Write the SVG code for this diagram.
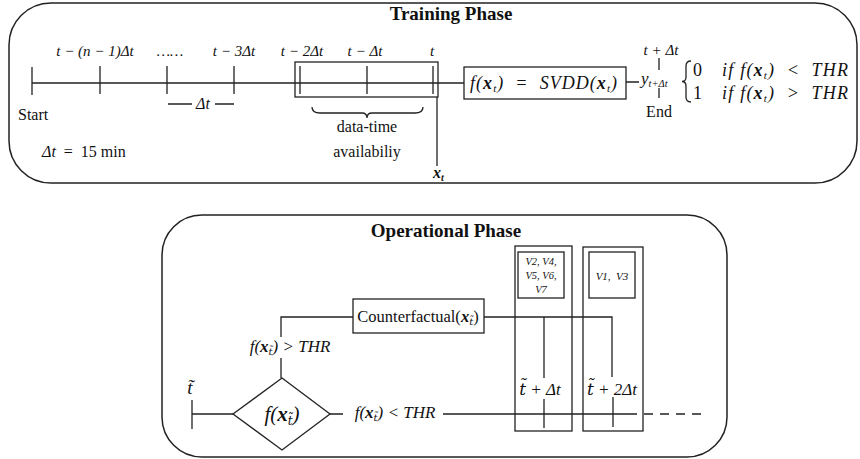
<svg xmlns="http://www.w3.org/2000/svg" width="860" height="459" viewBox="0 0 860 459">
<style>
.ln{stroke:#222;stroke-width:1.3;fill:none}
.bx{stroke:#222;stroke-width:1.3;fill:#fff}
.pn{stroke:#222;stroke-width:1.5;fill:#fff}
text{font-family:"Liberation Serif","DejaVu Serif",serif;fill:#111;white-space:pre}
.m{font-style:italic}
.ttl{font-weight:bold;font-size:19px}
</style>
<rect width="860" height="459" fill="#fff"/>
<g id="training-panel">
<rect class="pn" x="9" y="3" width="848" height="180" rx="42"/>
<text class="ttl" x="451" y="20" text-anchor="middle">Training Phase</text>
</g>
<g id="operational-panel">
<rect class="pn" x="162" y="215" width="565" height="242" rx="40"/>
<text class="ttl" x="446" y="237" text-anchor="middle">Operational Phase</text>
</g>
<g id="connectors">
<path class="ln" d="M32 83H464M626 82H639"/>
<path class="ln" d="M32 67V95M100 66V94M167 66V94M234 66V94M300 66V94M367 66V94M433 66V94"/>
<path class="ln" d="M437 97V166"/>
<path class="ln" d="M168 104H192M215 104H234"/>
<path class="ln" d="M312 107Q312 113 320 113H362Q367 113 367 118Q367 113 372 113H415Q423 113 423 107"/>
<path class="ln" d="M659 58V70M659 88V98"/>
<path class="ln" d="M691 61Q686 61 686 66V77Q686 81.5 682 81.5Q686 81.5 686 86V97Q686 102 691 102"/>
<path class="ln" d="M192 400V429M192 414H233M330 414H343M443 414H628"/>
<path class="ln" d="M628 414H703" stroke-dasharray="9,7"/>
<path class="ln" d="M281 378V358M281 337V317H353M484 317H612V377M544 317V378"/>
<path class="ln" d="M544 399V428M613 397V427"/>
</g>
<g id="time-labels">
<text class="m" x="95" y="56" text-anchor="middle" font-size="15">t − (n − 1)Δt</text>
<text class="m" x="170" y="56" text-anchor="middle" font-size="15">……</text>
<text class="m" x="234" y="56" text-anchor="middle" font-size="15">t − 3Δt</text>
<text class="m" x="302" y="56" text-anchor="middle" font-size="15">t − 2Δt</text>
<text class="m" x="365" y="56" text-anchor="middle" font-size="15">t − Δt</text>
<text class="m" x="432" y="56" text-anchor="middle" font-size="15">t</text>
<text class="m" x="203" y="109" text-anchor="middle" font-size="16">Δt</text>
<text x="18" y="120" font-size="16">Start</text>
<text x="367" y="132" text-anchor="middle" font-size="16">data-time</text>
<text x="367" y="157" text-anchor="middle" font-size="16">availabiliy</text>
<text x="42" y="157" font-size="16"><tspan font-style="italic">Δt</tspan>  =  15 min</text>
<text class="m" x="433" y="178" font-weight="bold" font-size="16">x<tspan font-size="10" dy="3">t</tspan></text>
</g>
<g id="window-box">
<rect class="ln" x="295" y="62" width="143" height="35"/>
</g>
<g id="svdd">
<rect class="bx" x="464" y="67" width="162" height="32"/>
<text class="m" x="470" y="89" font-size="18" textLength="147" lengthAdjust="spacing">f(<tspan font-weight="bold">x</tspan><tspan font-size="11" dy="3">t</tspan><tspan dy="-3">)  =  SVDD(</tspan><tspan font-weight="bold">x</tspan><tspan font-size="11" dy="3">t</tspan><tspan dy="-3">)</tspan></text>
</g>
<g id="output">
<text class="m" x="661" y="55" text-anchor="middle" font-size="15">t + Δt</text>
<text class="m" x="641" y="84" font-size="17">y<tspan font-size="10.5" dy="3">t+Δt</tspan></text>
<text x="659" y="117" text-anchor="middle" font-size="16">End</text>
<text x="693" y="76" font-size="18">0</text>
<text x="693" y="99" font-size="18">1</text>
<text class="m" x="722" y="76" font-size="18" textLength="126" lengthAdjust="spacing">if f(<tspan font-weight="bold">x</tspan><tspan font-size="11" dy="3">t</tspan><tspan dy="-3">)  &lt;  THR</tspan></text>
<text class="m" x="722" y="99" font-size="18" textLength="126" lengthAdjust="spacing">if f(<tspan font-weight="bold">x</tspan><tspan font-size="11" dy="3">t</tspan><tspan dy="-3">)  &gt;  THR</tspan></text>
</g>
<g id="start-tilde">
<text class="m" x="190" y="394" text-anchor="middle" font-size="19" font-family="DejaVu Serif">t̃</text>
</g>
<g id="decision">
<polygon class="bx" points="282,378 330,414 282,450 233,414"/>
<text class="m" x="282" y="421" text-anchor="middle" font-size="21">f(<tspan font-weight="bold">x</tspan><tspan font-size="12" dy="4" font-family="DejaVu Serif">t̃</tspan><tspan dy="-4">)</tspan></text>
</g>
<g id="cond-labels">
<text class="m" x="290" y="352" text-anchor="middle" font-size="17">f(<tspan font-weight="bold">x</tspan><tspan font-size="10" dy="3" font-family="DejaVu Serif">t̃</tspan><tspan dy="-3">) &gt; THR</tspan></text>
<text class="m" x="395" y="418" text-anchor="middle" font-size="17">f(<tspan font-weight="bold">x</tspan><tspan font-size="10" dy="3" font-family="DejaVu Serif">t̃</tspan><tspan dy="-3">) &lt; THR</tspan></text>
</g>
<g id="counterfactual">
<rect class="bx" x="353" y="299" width="131" height="34"/>
<text x="418" y="322" text-anchor="middle" font-size="16.5">Counterfactual(<tspan font-style="italic" font-weight="bold">x</tspan><tspan font-style="italic" font-size="10" dy="3" font-family="DejaVu Serif">t̃</tspan><tspan dy="-3">)</tspan></text>
</g>
<g id="slot1">
<rect class="ln" x="515" y="246" width="57" height="185"/>
<rect class="ln" x="518" y="252" width="46" height="46"/>
<text class="m" x="541" y="265" text-anchor="middle" font-size="10.5">V2, V4,</text>
<text class="m" x="541" y="279" text-anchor="middle" font-size="10.5">V5, V6,</text>
<text class="m" x="541" y="293" text-anchor="middle" font-size="10.5">V7</text>
<text class="m" x="540" y="395" text-anchor="middle" font-size="17"><tspan font-family="DejaVu Serif">t̃</tspan> + Δt</text>
</g>
<g id="slot2">
<rect class="ln" x="583" y="247" width="60" height="184"/>
<rect class="ln" x="589" y="252" width="46" height="46"/>
<text class="m" x="612" y="280" text-anchor="middle" font-size="11">V1,  V3</text>
<text class="m" x="612" y="395" text-anchor="middle" font-size="17"><tspan font-family="DejaVu Serif">t̃</tspan> + 2Δt</text>
</g>
</svg>
